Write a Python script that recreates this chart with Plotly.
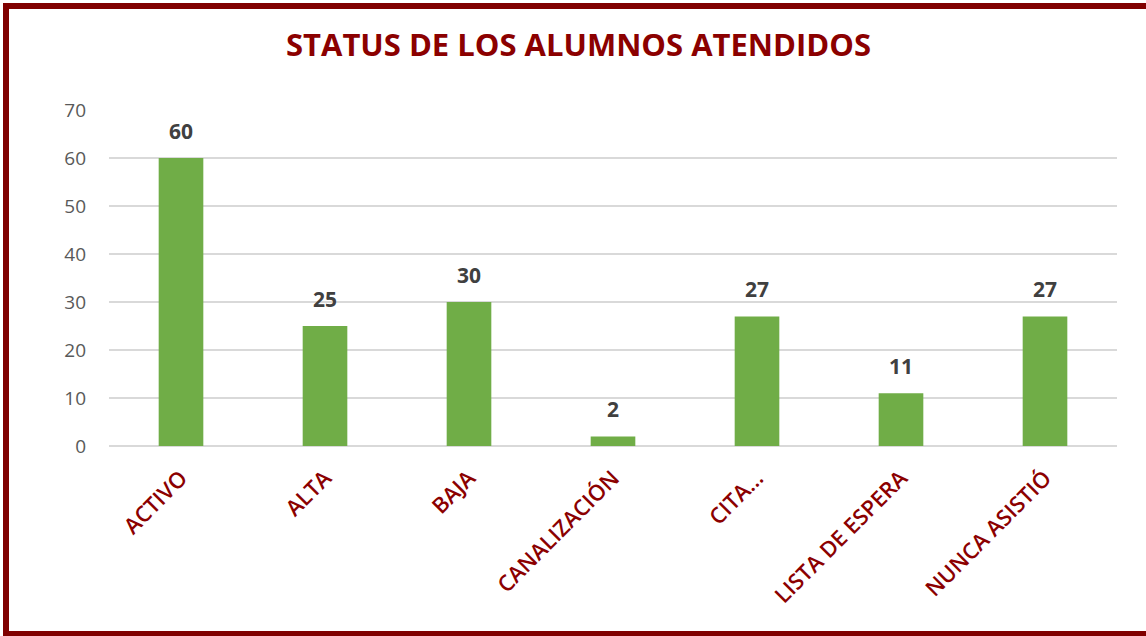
import plotly.graph_objects as go

categories = ["ACTIVO", "ALTA", "BAJA", "CANALIZACIÓN", "CITA…", "LISTA DE ESPERA", "NUNCA ASISTIÓ"]
values = [60, 25, 30, 2, 27, 11, 27]
y_ticks = [0, 10, 20, 30, 40, 50, 60, 70]

W, H = 1146, 636
ML, MR, MT, MB = 109, 29, 110, 190
PW, PH = W - ML - MR, H - MT - MB

def px_x(p):
    return (p - ML) / PW

def px_y(p):
    return (H - MB - p) / PH

fig = go.Figure(go.Bar(
    x=categories, y=values,
    marker=dict(color="#70AD47", line=dict(width=0)),
    hoverinfo="x+y",
))

for c, v in zip(categories, values):
    fig.add_annotation(
        x=c, y=v, xref="x", yref="y",
        text=f"<b>{v}</b>", showarrow=False,
        yanchor="bottom", yshift=11,
        font=dict(family="Open Sans", size=21, color="#404040"),
    )

fig.update_layout(
    width=W, height=H,
    margin=dict(l=ML, r=MR, t=MT, b=MB),
    paper_bgcolor="white", plot_bgcolor="white",
    bargap=0.69,
    showlegend=False,
    title=dict(
        text="<b>STATUS DE LOS ALUMNOS ATENDIDOS</b>",
        x=578.5 / W, xanchor="center", y=1 - 45 / H, yanchor="middle",
        font=dict(family="Open Sans", size=31, color="#8B0000"),
    ),
    xaxis=dict(
        tickangle=-45,
        tickfont=dict(family="Open Sans", size=22, color="#8B0000", weight=600),
        showline=False, showgrid=False, ticks="",
        ticklabelstandoff=14,
    ),
    yaxis=dict(
        range=[0, 70], tickvals=y_ticks,
        tickfont=dict(family="Open Sans", size=19, color="#595959"),
        gridcolor="#D9D9D9", gridwidth=2,
        zeroline=True, zerolinecolor="#D9D9D9", zerolinewidth=2,
        ticks="", ticklen=0, ticklabelstandoff=22,
    ),
    shapes=[dict(
        type="rect", xref="paper", yref="paper",
        x0=px_x(6), x1=px_x(1152), y0=px_y(634), y1=px_y(6),
        line=dict(color="#800000", width=6), fillcolor="rgba(0,0,0,0)",
        layer="above",
    )],
)

fig.write_html("out.html", config={"displayModeBar": False},
               post_script="document.body.style.margin='0px';")
